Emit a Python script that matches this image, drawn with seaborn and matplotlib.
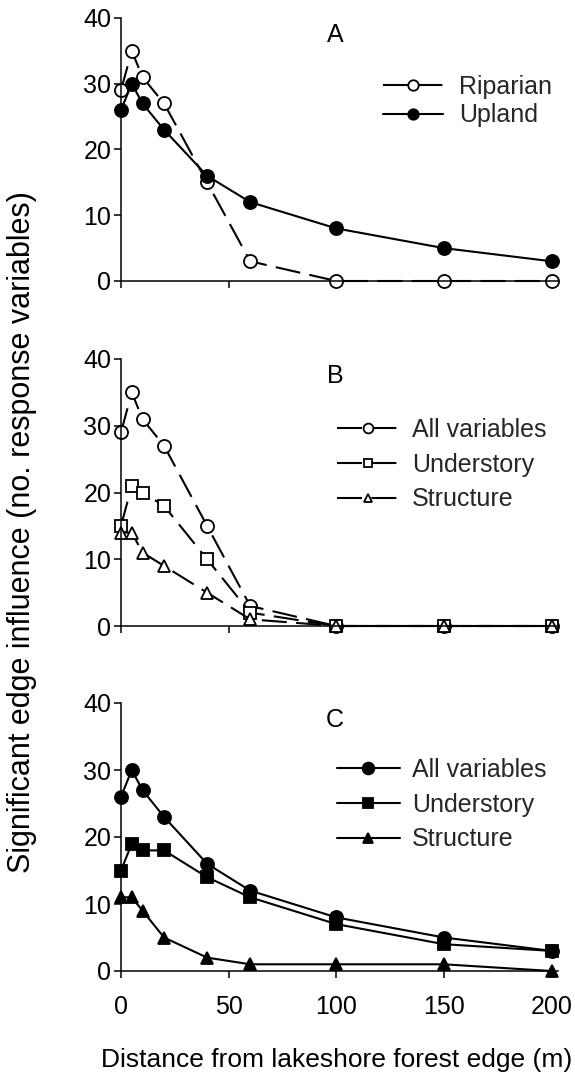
import numpy as np
import pandas as pd
import matplotlib
matplotlib.use("Agg")
import matplotlib.pyplot as plt
import seaborn as sns

# ---- data ----
distance = [0, 5, 10, 20, 40, 60, 100, 150, 200]

riparian_all = [29, 35, 31, 27, 15, 3, 0, 0, 0]
upland_all = [26, 30, 27, 23, 16, 12, 8, 5, 3]

rip_understory = [15, 21, 20, 18, 10, 2, 0, 0, 0]
rip_structure = [14, 14, 11, 9, 5, 1, 0, 0, 0]

up_understory = [15, 19, 18, 18, 14, 11, 7, 4, 3]
up_structure = [11, 11, 9, 5, 2, 1, 1, 1, 0]

panel_letters = ["A", "B", "C"]
labels_A = ["Riparian", "Upland"]
labels_BC = ["All variables", "Understory", "Structure"]
x_ticks = [0, 50, 100, 150, 200]
y_ticks = [0, 10, 20, 30, 40]
x_label = "Distance from lakeshore forest edge (m)"
y_label = "Significant edge influence (no. response variables)"

sns.set_theme(style="ticks")
plt.rcParams["font.family"] = ["Liberation Sans", "DejaVu Sans"]

W, H = 575, 1076
fig = plt.figure(figsize=(W / 100, H / 100), dpi=100)

def rect(top_px, bot_px, left_px=121, right_px=558):
    return [left_px / W, 1 - bot_px / H, (right_px - left_px) / W, (bot_px - top_px) / H]

axA = fig.add_axes(rect(18, 281))
axB = fig.add_axes(rect(359, 626))
axC = fig.add_axes(rect(703, 971))

dash = (0, (12, 4.5))
LW = 1.5
MEW = 1.3

def draw(ax, y, marker, filled, dashed, ms):
    sns.lineplot(x=distance, y=y, ax=ax, marker=marker, markersize=ms,
                 markerfacecolor="black" if filled else "white",
                 markeredgecolor="black", markeredgewidth=MEW,
                 color="black", linewidth=LW,
                 linestyle=dash if dashed else "-",
                 legend=False, clip_on=False, errorbar=None)
    return ax.lines[-1]

# Panel A
hA = [draw(axA, riparian_all, "o", False, True, 9.4),
      draw(axA, upland_all, "o", True, False, 9.4)]
# Panel B
hB = [draw(axB, riparian_all, "o", False, True, 9.4),
      draw(axB, rip_understory, "s", False, True, 8.2),
      draw(axB, rip_structure, "^", False, True, 8.5)]
# Panel C
hC = [draw(axC, upland_all, "o", True, False, 9.4),
      draw(axC, up_understory, "s", True, False, 8.2),
      draw(axC, up_structure, "^", True, False, 8.5)]

FS = 18
for ax, letter in zip([axA, axB, axC], panel_letters):
    ax.set_xlim(0, 203)
    ax.set_ylim(0, 40)
    ax.set_xticks(x_ticks)
    ax.set_yticks(y_ticks)
    ax.set_xlabel("")
    ax.set_ylabel("")
    sns.despine(ax=ax)
    for s in ["left", "bottom"]:
        ax.spines[s].set_linewidth(1.1)
        ax.spines[s].set_color("black")
    ax.tick_params(axis="both", direction="out", length=5, width=1.1,
                   color="black", labelsize=FS, labelcolor="black")
    ax.tick_params(axis="y", pad=2)
    ax.tick_params(axis="x", pad=12)
    ax.text(0.49, 0.935, letter, transform=ax.transAxes, ha="center",
            va="center", fontsize=FS, color="black")
    ax.set_facecolor("white")

axA.tick_params(axis="x", labelbottom=False)
axB.tick_params(axis="x", labelbottom=False)

legA = axA.legend(hA, labels_A, loc="upper left",
                  bbox_to_anchor=((383 - 121) / 437, (281 - 75) / 263),
                  frameon=False, fontsize=FS, handlelength=2.4,
                  handletextpad=0.65, labelspacing=0.18, borderpad=0,
                  borderaxespad=0, markerscale=0.8)
legB = axB.legend(hB, labels_BC, loc="upper left",
                  bbox_to_anchor=((337 - 121) / 437, (626 - 418) / 267),
                  frameon=False, fontsize=FS, handlelength=2.5,
                  handletextpad=0.5, labelspacing=0.43, borderpad=0,
                  borderaxespad=0, markerscale=0.75)
legC = axC.legend(hC, labels_BC, loc="upper left",
                  bbox_to_anchor=((337 - 121) / 437, (971 - 758) / 268),
                  frameon=False, fontsize=FS, handlelength=2.5,
                  handletextpad=0.5, labelspacing=0.43, borderpad=0,
                  borderaxespad=0, markerscale=0.9)

fig.text(337 / W, 1 - 1060 / H, x_label, ha="center", va="center",
         fontsize=FS + 1, color="black")
fig.text(22 / W, 1 - 532 / H, y_label, ha="center", va="center",
         rotation=90, fontsize=22, color="black")

fig.savefig("out.png", dpi=100, facecolor="white")
